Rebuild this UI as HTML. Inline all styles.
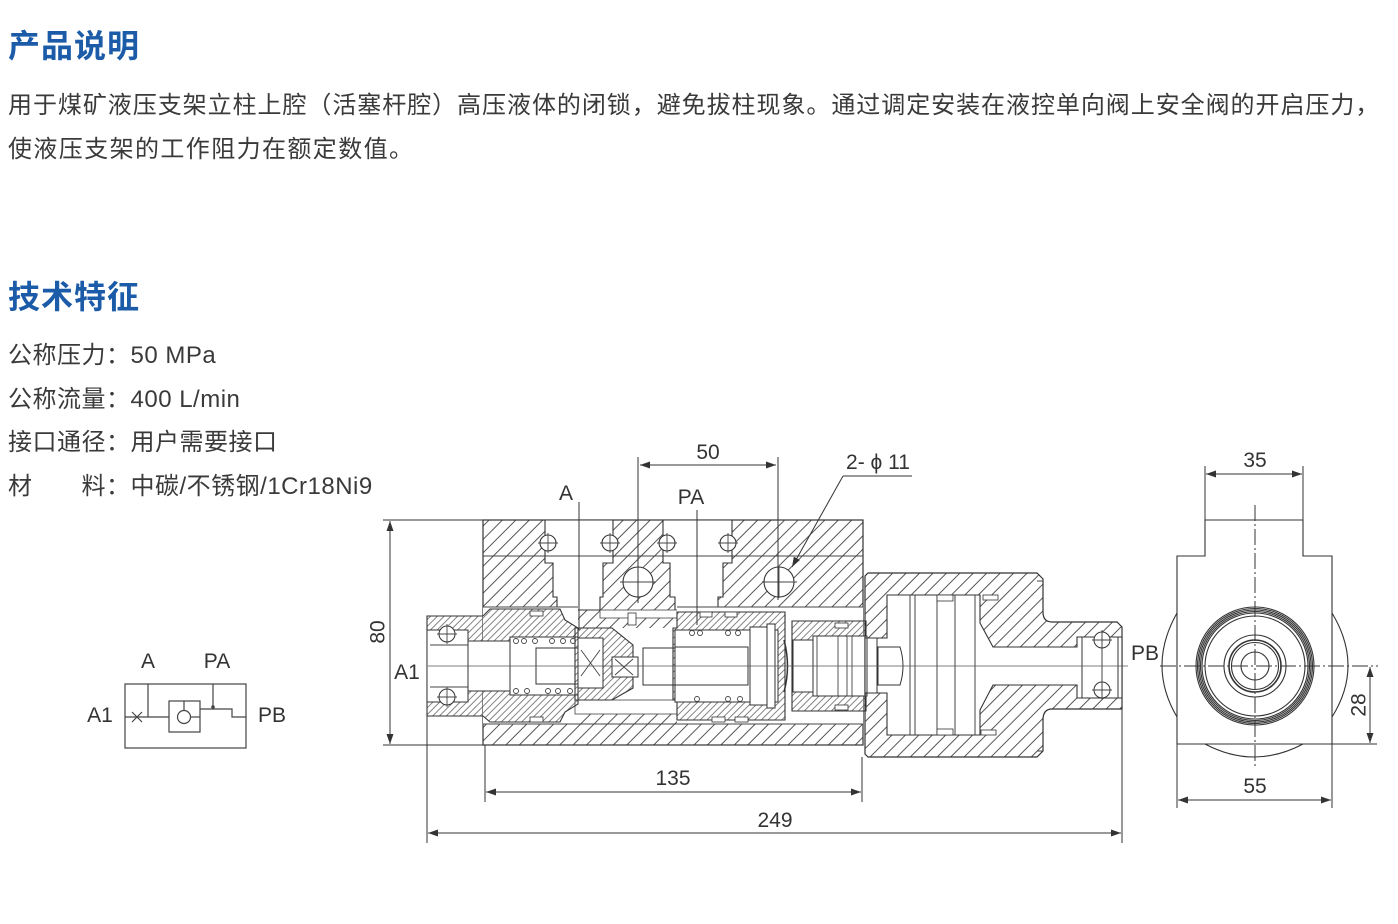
<!DOCTYPE html>
<html><head><meta charset="utf-8">
<style>
html,body{margin:0;padding:0;background:#fff;}
body{width:1398px;height:924px;position:relative;overflow:hidden;font-family:"Liberation Sans","Noto Sans CJK SC",sans-serif;color:#3a3a3a;}
.h{position:absolute;left:8px;font-size:32px;line-height:32px;font-weight:bold;color:#1b5ba8;letter-spacing:1px;white-space:nowrap;}
.p{position:absolute;left:8px;font-size:24px;line-height:24px;letter-spacing:1.4px;white-space:nowrap;}
.s{position:absolute;left:8px;font-size:24px;line-height:24px;letter-spacing:0.5px;white-space:nowrap;}
svg{position:absolute;left:0;top:0;}
</style></head><body>
<div class="h" style="top:30px">产品说明</div>
<div class="p" style="top:94px;letter-spacing:0.95px">用于煤矿液压支架立柱上腔（活塞杆腔）高压液体的闭锁，避免拔柱现象。通过调定安装在液控单向阀上安全阀的开启压力，</div>
<div class="p" style="top:138px">使液压支架的工作阻力在额定数值。</div>
<div class="h" style="top:281px">技术特征</div>
<div class="s" style="top:344px">公称压力：50 MPa</div>
<div class="s" style="top:388px">公称流量：400 L/min</div>
<div class="s" style="top:431px">接口通径：用户需要接口</div>
<div class="s" style="top:475px">材　　料：中碳/不锈钢/1Cr18Ni9</div>

<svg width="1398" height="924" viewBox="0 0 1398 924" xmlns="http://www.w3.org/2000/svg">
<defs>
<pattern id="hc" patternUnits="userSpaceOnUse" width="9.5" height="9.5" patternTransform="rotate(45)"><line x1="1" y1="-1" x2="1" y2="11" stroke="#555" stroke-width="1"/></pattern>
<pattern id="hf" patternUnits="userSpaceOnUse" width="4.8" height="4.8" patternTransform="rotate(45)"><line x1="1" y1="-1" x2="1" y2="6" stroke="#666" stroke-width="0.8"/></pattern>
<marker id="ar" viewBox="0 0 10 7" refX="10" refY="3.5" markerWidth="10" markerHeight="7" markerUnits="userSpaceOnUse" orient="auto-start-reverse"><path d="M0,0 L10,3.5 L0,7 z" fill="#333"/></marker>
</defs>

<!-- small schematic -->
<g fill="none" stroke="#444" stroke-width="1.2">
<rect x="125" y="684" width="121" height="64"/>
<line x1="125" y1="717" x2="169" y2="717"/>
<rect x="169" y="701" width="31" height="31"/>
<circle cx="184" cy="717" r="6.5"/>
<line x1="190.5" y1="717" x2="200" y2="717"/>
<line x1="184" y1="701" x2="184" y2="710"/>
<line x1="148" y1="684" x2="148" y2="717"/>
<line x1="213" y1="684" x2="213" y2="706"/>
<polyline points="200,709 232,709 232,717 246,717"/>
<path d="M132,712 L142,722 M132,722 L142,712"/>
</g>
<circle cx="213" cy="707" r="1.8" fill="#444"/>
<g font-family="Liberation Sans, sans-serif" font-size="21" fill="#333" text-anchor="middle">
<text x="148" y="668">A</text>
<text x="217" y="668">PA</text>
<text x="100" y="722">A1</text>
<text x="272" y="722">PB</text>
</g>

<!-- MAIN BODY -->
<rect x="483" y="520" width="380" height="225" fill="url(#hc)" stroke="#333" stroke-width="1.2"/>
<line x1="483" y1="556" x2="863" y2="556" stroke="#444" stroke-width="1"/>
<g fill="#fff" stroke="#333" stroke-width="1.1">
<polygon points="545,520 545,563 553,563 553,597 557,597 557,610 600,610 600,597 603,597 603,563 613,563 613,520"/>
<polygon points="663,520 663,563 670,563 670,597 675,597 675,610 718,610 718,597 723,597 723,563 732,563 732,520"/>
</g>
<g stroke="#444" stroke-width="1">
<line x1="545" y1="556" x2="613" y2="556"/><line x1="663" y1="556" x2="732" y2="556"/>
</g>
<g fill="#fff" stroke="#333" stroke-width="1.1">
<circle cx="548" cy="543" r="8"/><circle cx="610" cy="543" r="8"/>
<circle cx="667" cy="543" r="8"/><circle cx="728" cy="543" r="8"/>
<circle cx="638" cy="582" r="15"/><circle cx="779" cy="582" r="15"/>
</g>
<g stroke="#444" stroke-width="0.9">
<path d="M538,543 H558 M548,533 V553 M600,543 H620 M610,533 V553 M657,543 H677 M667,533 V553 M718,543 H738 M728,533 V553"/>
<path d="M620,582 H656 M762,582 H797 M779,566 V598"/>
</g>

<!-- bore region -->
<rect x="483" y="607" width="95" height="117" fill="#fff"/>
<rect x="578" y="628" width="100" height="72" fill="#fff"/>
<rect x="575" y="700" width="110" height="14" fill="#fff" stroke="#444" stroke-width="0.8"/>
<rect x="600" y="610" width="90" height="8" fill="#fff" stroke="#444" stroke-width="0.8"/>
<rect x="677" y="607" width="186" height="117" fill="#fff"/>
<line x1="483" y1="724" x2="863" y2="724" stroke="#444" stroke-width="1"/>
<line x1="483" y1="607" x2="578" y2="607" stroke="#444" stroke-width="1"/>
<line x1="677" y1="607" x2="863" y2="607" stroke="#444" stroke-width="1"/>

<!-- left cartridge -->
<polygon points="427,616 483,616 490,609 560,609 565,620 578,628 578,704 565,712 560,722 490,722 483,716 427,716" fill="url(#hf)" stroke="#333" stroke-width="1.1"/>
<g fill="#fff" stroke="#333" stroke-width="1">
<rect x="427" y="630" width="41" height="72"/>
<rect x="468" y="641" width="42" height="50"/>
<rect x="510" y="637" width="68" height="58"/>
<rect x="536" y="648" width="42" height="36"/>
<circle cx="447" cy="634" r="8"/><circle cx="447" cy="697" r="8"/>
</g>
<g stroke="#444" stroke-width="0.9" fill="none">
<path d="M437,634 H457 M447,624 V644 M437,697 H457 M447,687 V707"/>
<path d="M430,645 H468 M430,687 H468"/>
</g>
<g fill="#fff" stroke="#444" stroke-width="0.9">
<circle cx="516" cy="641" r="2.5"/><circle cx="524" cy="641" r="2.5"/><circle cx="535" cy="641" r="2.5"/><circle cx="552" cy="641" r="2.5"/><circle cx="563" cy="641" r="2.5"/><circle cx="573" cy="641" r="2.5"/>
<circle cx="516" cy="691" r="2.5"/><circle cx="527" cy="691" r="2.5"/><circle cx="548" cy="691" r="2.5"/><circle cx="558" cy="691" r="2.5"/><circle cx="570" cy="691" r="2.5"/>
</g>

<!-- seat piece -->
<polygon points="575,628 612,628 633,645 633,688 612,700 575,700" fill="url(#hf)" stroke="#333" stroke-width="1.1"/>
<g fill="#fff" stroke="#333" stroke-width="1">
<rect x="578" y="638" width="25" height="50"/>
<rect x="612" y="657" width="26" height="20"/>
<rect x="643" y="648" width="32" height="37"/>
</g>
<path d="M581,650 L600,676 M600,650 L581,676 M615,659 L633,675 M633,659 L615,675" stroke="#444" stroke-width="0.9"/>

<!-- right sleeve -->
<polygon points="677,612 785,612 785,720 677,720 677,700 673,700 673,628 677,628" fill="url(#hf)" stroke="#333" stroke-width="1.1"/>
<g fill="#fff" stroke="#333" stroke-width="1">
<rect x="675" y="630" width="103" height="72"/>
<rect x="675" y="647" width="73" height="38"/>
<rect x="750" y="627" width="17" height="78"/>
<rect x="767" y="624" width="8" height="84"/>
</g>
<g fill="#fff" stroke="#444" stroke-width="0.9">
<circle cx="692" cy="633" r="2.5"/><circle cx="700" cy="633" r="2.5"/><circle cx="728" cy="633" r="2.5"/><circle cx="738" cy="633" r="2.5"/>
<circle cx="697" cy="699" r="2.5"/><circle cx="728" cy="699" r="2.5"/><circle cx="740" cy="699" r="2.5"/>
</g>
<path d="M784,640 Q791,666 784,692" fill="none" stroke="#333" stroke-width="1.5"/>

<!-- plug -->
<polygon points="792,621 866,621 866,711 792,711" fill="url(#hf)" stroke="#333" stroke-width="1.1"/>
<g fill="#fff" stroke="#333" stroke-width="1">
<rect x="793" y="640" width="20" height="52"/>
<rect x="813" y="636" width="54" height="60"/>
</g>
<path d="M817,636 V696 M838,636 V696 M847,636 V696 M852,636 V696" stroke="#444" stroke-width="0.9"/>

<!-- seals -->
<g fill="#fff" stroke="#333" stroke-width="0.8">
<rect x="530" y="611" width="13" height="5"/><rect x="530" y="717" width="13" height="5"/>
<rect x="700" y="612" width="12" height="5"/><rect x="725" y="612" width="12" height="5"/>
<rect x="712" y="717" width="13" height="5"/><rect x="735" y="717" width="13" height="5"/>
<rect x="628" y="613" width="8" height="12"/>
<rect x="835" y="623" width="13" height="5"/><rect x="835" y="705" width="13" height="5"/>
</g>

<!-- HOUSING -->
<path d="M868,573 H1037 L1043,579 V612 Q1043,622 1052,622 H1117 L1122,627 V709 H1052 Q1043,709 1043,720 V751 L1037,757 H868 L865,754 V576 Z" fill="url(#hc)" stroke="#333" stroke-width="1.2"/>
<path d="M865,638 H887 V595 H980 V623 L993,647 H1077 V637 H1122 V698 H1077 V685 H993 L980,710 V735 H887 V693 H865 Z" fill="#fff" stroke="#333" stroke-width="1.1"/>
<g fill="#fff" stroke="#333" stroke-width="1">
<rect x="867" y="638" width="10" height="55"/>
<path d="M878,647 H900 Q906,666 900,685 H878 Z"/>
<rect x="1082" y="637" width="36" height="61"/>
<circle cx="1102" cy="640" r="8"/><circle cx="1102" cy="690" r="8"/>
</g>
<g stroke="#444" stroke-width="1" fill="none">
<path d="M910,595 V735 M915,595 V735 M937,595 V735 M955,595 V735 M975,595 V735"/>
<path d="M1092,640 H1112 M1102,630 V650 M1092,690 H1112 M1102,680 V700 M1102,648 V682"/>
<path d="M1037,581 H1043 M1037,751 H1043"/>
</g>
<g fill="#fff" stroke="#333" stroke-width="0.8">
<rect x="937" y="595" width="16" height="6"/><rect x="983" y="595" width="15" height="5"/>
<rect x="937" y="729" width="16" height="6"/><rect x="981" y="730" width="15" height="5"/>
</g>

<!-- axis -->
<line x1="428" y1="666" x2="1128" y2="666" stroke="#555" stroke-width="0.7"/>

<!-- leaders and dimensions -->
<g stroke="#333" stroke-width="1" fill="none">
<line x1="579" y1="502" x2="579" y2="630"/>
<line x1="697" y1="510" x2="697" y2="625"/>
<line x1="638" y1="457" x2="638" y2="603"/>
<line x1="778" y1="457" x2="778" y2="600"/>
<line x1="640" y1="465" x2="776" y2="465" marker-start="url(#ar)" marker-end="url(#ar)"/>
<line x1="843" y1="476" x2="912" y2="476"/>
<line x1="843" y1="476" x2="792" y2="567" marker-end="url(#ar)"/>
<line x1="383" y1="520" x2="483" y2="520"/>
<line x1="383" y1="745" x2="483" y2="745"/>
<line x1="390" y1="521" x2="390" y2="744" marker-start="url(#ar)" marker-end="url(#ar)"/>
<line x1="485" y1="745" x2="485" y2="802"/>
<line x1="862" y1="757" x2="862" y2="802"/>
<line x1="486" y1="792" x2="861" y2="792" marker-start="url(#ar)" marker-end="url(#ar)"/>
<line x1="427" y1="716" x2="427" y2="843"/>
<line x1="1122" y1="709" x2="1122" y2="843"/>
<line x1="428" y1="833" x2="1121" y2="833" marker-start="url(#ar)" marker-end="url(#ar)"/>
</g>

<g font-family="Liberation Sans, DejaVu Sans, sans-serif" font-size="21" fill="#333" text-anchor="middle">
<text x="708" y="459">50</text>
<text x="566" y="500">A</text>
<text x="691" y="504">PA</text>
<text x="878" y="469">2- ϕ 11</text>
<text x="407" y="679">A1</text>
<text x="673" y="785">135</text>
<text x="775" y="827">249</text>
<text x="1145" y="660">PB</text>
<text transform="translate(377,632) rotate(-90)" y="7.5">80</text>
<text x="1255" y="467">35</text>
<text x="1255" y="793">55</text>
<text transform="translate(1358,705) rotate(-90)" y="7.5">28</text>
</g>

<!-- SIDE VIEW -->
<g fill="none" stroke="#333" stroke-width="1.1">
<path d="M1205,520 H1303 V556 H1332 V744 H1177 V556 H1205 Z"/>
<path d="M1177,613 Q1147,666 1177,717"/>
<path d="M1332,613 Q1364,666 1332,717"/>
<path d="M1205,744 Q1254,770 1303,744"/>
<circle cx="1255" cy="666" r="59"/><circle cx="1255" cy="666" r="57.5"/><circle cx="1255" cy="666" r="56"/><circle cx="1255" cy="666" r="54.5"/><circle cx="1255" cy="666" r="53"/>
<circle cx="1255" cy="666" r="50"/>
<circle cx="1255" cy="666" r="31"/>
<circle cx="1255" cy="666" r="26" stroke-width="1.6"/>
<circle cx="1255" cy="666" r="23.5"/>
<circle cx="1255" cy="666" r="14"/>
</g>
<g stroke="#333" stroke-width="1" fill="none">
<line x1="1255" y1="505" x2="1255" y2="767" stroke-dasharray="16 3 2 3"/>
<line x1="1160" y1="666" x2="1378" y2="666" stroke-dasharray="16 3 2 3"/>
<line x1="1205" y1="466" x2="1205" y2="520"/>
<line x1="1303" y1="466" x2="1303" y2="520"/>
<line x1="1206" y1="474" x2="1302" y2="474" marker-start="url(#ar)" marker-end="url(#ar)"/>
<line x1="1332" y1="744" x2="1377" y2="744"/>
<line x1="1370" y1="667" x2="1370" y2="743" marker-start="url(#ar)" marker-end="url(#ar)"/>
<line x1="1177" y1="744" x2="1177" y2="808"/>
<line x1="1332" y1="744" x2="1332" y2="808"/>
<line x1="1178" y1="800" x2="1331" y2="800" marker-start="url(#ar)" marker-end="url(#ar)"/>
</g>
</svg>
</body></html>
